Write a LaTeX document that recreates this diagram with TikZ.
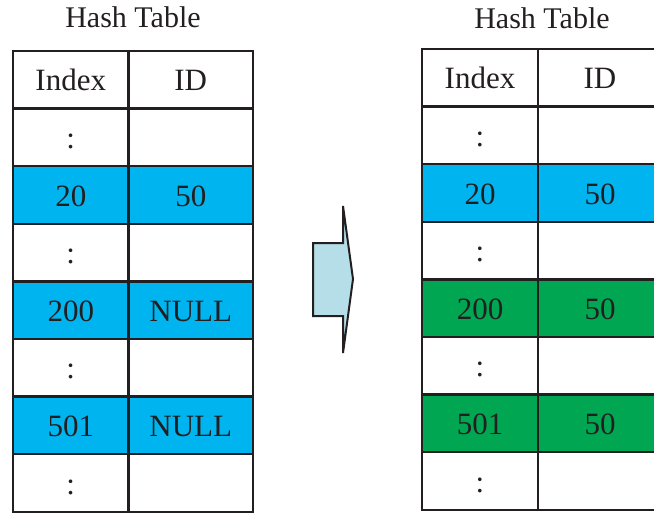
\documentclass[tikz,border=0pt]{standalone}
\usepackage{fontspec}
\setmainfont{Liberation Serif}
\usetikzlibrary{positioning}
\definecolor{ink}{HTML}{231F20}
\definecolor{hit}{HTML}{00B5EF}
\definecolor{moved}{HTML}{00A651}
\definecolor{shiftfill}{HTML}{B5DEE8}

\begin{document}
\begin{tikzpicture}[x=1pt,y=-1pt,
  cell/.style={draw=ink,line width=2.3pt,minimum height=57.6pt,inner sep=0pt,
    text height=22pt,text depth=0pt,text=ink,font=\fontsize{31}{36}\selectfont},
  idxcell/.style={cell,minimum width=115.5pt},
  idcell/.style={cell,minimum width=124.5pt},
  title/.style={text=ink,font=\fontsize{30}{34}\selectfont,anchor=base}]
\clip (0,0) rectangle (654,515);
% left: the table before
\begin{scope}
 \node[title] (Ltitle) at (133,27) {Hash Table};
 \foreach \r/\a/\b/\f in {0/Index/ID/white,1/:/{}/white,2/20/50/hit,3/:/{}/white,
   4/200/NULL/hit,5/:/{}/white,6/501/NULL/hit,7/:/{}/white} {
  \node[idxcell,fill=\f] (L\r a) at (70.75,{51+57.6*(\r+0.5)}) {\a};
  \node[idcell,fill=\f] (L\r b) at (190.75,{51+57.6*(\r+0.5)}) {\b};
 }
\end{scope}
% the block arrow between the two tables
\draw[ink,line width=2pt,fill=shiftfill,line join=miter]
 (313,243) -- (343,243) -- (343,206) -- (353,279) -- (343,353) -- (343,316) -- (313,316) -- cycle;
% right: the table after
\begin{scope}
 \node[title] (Rtitle) at (542,28) {Hash Table};
 \foreach \r/\a/\b/\f in {0/Index/ID/white,1/:/{}/white,2/20/50/hit,3/:/{}/white,
   4/200/50/moved,5/:/{}/white,6/501/50/moved,7/:/{}/white} {
  \node[idxcell,fill=\f] (R\r a) at (480,{49+57.6*(\r+0.5)}) {\a};
  \node[idcell,fill=\f] (R\r b) at (600,{49+57.6*(\r+0.5)}) {\b};
 }
\end{scope}
\end{tikzpicture}
\end{document}
